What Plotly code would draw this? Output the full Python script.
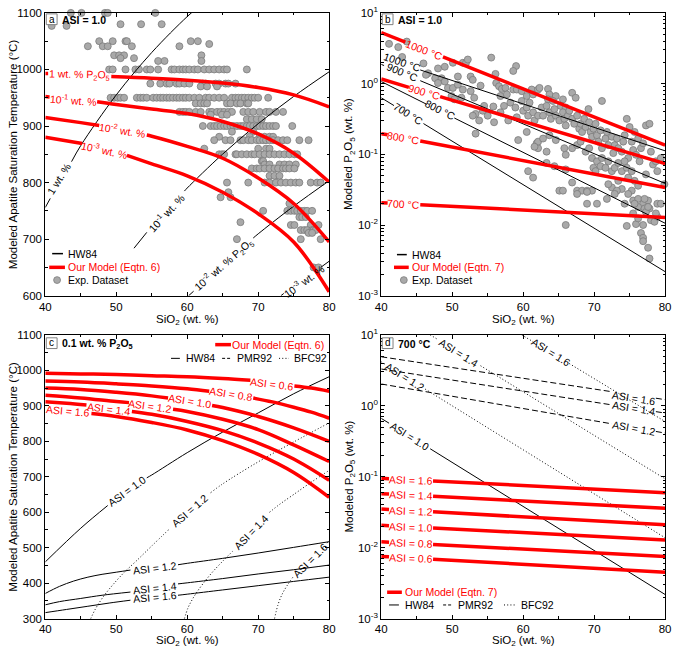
import math
import plotly.graph_objects as go

W, H = 677, 655
FONT = "Liberation Sans, Arial, Helvetica, sans-serif"
RED = "#ff0000"
BLACK = "#000000"
PT_FILL = "#a9a9a9"
PT_EDGE = "#7b7b7b"
TXT = 11.5
LBL = 10.5

# ---------------- axis ticks ----------------
x_ticks = [40, 50, 60, 70, 80]
x_minor = [45, 55, 65, 75]
a_y_ticks = [600, 700, 800, 900, 1000, 1100]
a_y_minor = [650, 750, 850, 950, 1050]
c_y_ticks = [300, 400, 500, 600, 700, 800, 900, 1000, 1100]
c_y_minor = [350, 450, 550, 650, 750, 850, 950, 1050]
log_ticks = [0.001, 0.01, 0.1, 1, 10]
log_ticktext = ["10<sup>-3</sup>", "10<sup>-2</sup>", "10<sup>-1</sup>", "10<sup>0</sup>", "10<sup>1</sup>"]
log_minor = [k * 10 ** e for e in (-3, -2, -1, 0) for k in range(2, 10)]

# ---------------- panel a: experimental dataset (T rows) ----------------
a_exp_row_temp = [1100, 1080, 1077, 1050, 1045, 1041, 1025, 1020, 1015, 1000, 975, 970, 950, 940,
                  925, 920, 912, 900, 890, 881, 875, 860, 850, 838, 832, 825, 812, 800, 783, 774,
                  763, 750, 739, 730, 725, 716, 711, 700, 650]
a_exp_row_sio2 = [
    [43.6, 45.1, 48.4, 48.8, 55.5],
    [50.6, 53.5, 56.4],
    [40.9, 43.0],
    [47.6, 49.5, 51.3, 51.5, 60.5, 61.5],
    [63.1],
    [46.0, 48.1, 48.8, 52.2, 58.9],
    [49.7, 50.4, 51.1, 62.0],
    [50.6, 52.5],
    [55.9, 56.8, 62.0],
    [49.0, 49.5, 51.3, 52.7, 53.2, 54.3, 54.8, 55.9, 57.8, 58.2, 58.9, 59.4, 59.8, 60.3, 61.0, 61.5,
     62.4, 63.1, 63.8, 64.5, 65.2, 65.6, 68.4],
    [54.8, 56.2, 57.1, 57.5, 58.5, 58.9, 59.6, 60.3, 62.2, 62.6, 64.0, 64.5, 65.4, 65.8, 66.8],
    [61.9, 62.8, 64.2],
    [49.2, 49.7, 50.2, 50.6, 51.1, 52.9, 53.4, 53.8, 54.3, 55.2, 55.7, 56.2, 56.6, 57.1, 57.5, 58.0,
     58.5, 58.9, 59.4, 59.8, 60.3, 61.0, 61.7, 62.6, 63.1, 63.8, 64.5, 65.2, 66.3, 66.8, 67.2, 67.7,
     68.1, 68.6, 69.1, 69.5, 70.0, 71.4],
    [61.2, 61.9, 62.4, 62.8, 65.6, 66.1, 67.0, 67.5, 68.4, 68.6],
    [58.9, 59.4, 59.8, 60.3, 61.2, 61.9, 63.1, 63.5, 64.2, 64.7, 65.2, 65.8, 66.3, 67.9, 68.6, 69.3,
     70.2, 71.1, 71.6, 72.5, 73.5],
    [63.3, 64.9, 65.6],
    [68.4, 69.1, 69.8, 70.5],
    [62.2, 63.3, 63.8, 64.2, 64.7, 65.2, 65.6, 66.1, 66.5, 67.0, 67.5, 67.9, 68.4, 68.8, 69.3, 69.8,
     70.2, 70.7, 71.1, 71.6, 72.1, 72.5, 74.8],
    [66.3, 69.3],
    [64.5, 68.8, 70.2, 70.9, 71.6, 72.1],
    [63.8, 65.4, 66.1, 67.5, 67.9, 68.6, 69.1, 69.8, 70.2, 70.7, 71.1, 71.6, 72.1, 72.8, 73.5, 74.1,
     75.8, 77.1],
    [62.4, 70.0, 71.1, 71.6],
    [64.5, 64.9, 65.2, 66.8, 67.0, 67.7, 68.4, 69.1, 69.5, 70.2, 70.9, 71.6, 72.3, 73.0, 73.7, 74.4,
     75.1, 75.5],
    [70.5, 70.7],
    [70.9, 71.6, 73.0, 73.7, 74.4, 75.3],
    [69.1, 69.8, 70.2, 70.9, 71.6, 72.3, 72.8, 73.5, 73.9, 74.4, 75.1],
    [71.6, 72.3, 73.0],
    [65.6, 68.6, 70.9, 71.6, 72.5, 73.2, 73.9, 74.6, 75.3, 75.8, 77.4, 78.3, 78.8],
    [65.8],
    [64.7, 66.1],
    [74.4],
    [70.7, 74.1, 74.6, 75.1, 75.5, 76.0, 76.5, 76.9, 77.6],
    [75.8, 76.2, 76.7],
    [67.5],
    [74.6, 75.1, 77.4, 78.5],
    [76.0, 76.5, 76.9, 77.6, 77.8, 78.1],
    [77.1, 77.6],
    [67.0, 76.0, 78.8],
    [77.8, 78.5],
]

# ---------------- panel a: curves (None = label gap) ----------------
a_red_1_x = [40, 40.4, None, 49.3, 55, 60, 65, 70, 75, 80]
a_red_1_t = [993, 993, None, 987.5, 984.5, 981, 976, 968, 955, 934]
a_red_01_x = [40, 40.6, None, 47.3, 50, 55, 60, 65, 70, 75, 80]
a_red_01_t = [952, 951.5, None, 943, 938, 930, 922, 908, 886, 852, 801]
a_red_001_x = [40, 45, 47.6, None, 54.3, 55, 60, 65, 70, 75, 80]
a_red_001_t = [915, 906, 901, None, 884, 882, 864, 843, 808, 763, 695]
a_red_0001_x = [40, 45.2, None, 51.5, 55, 60, 65, 70, 75, 80]
a_red_0001_t = [880, 869, None, 848, 833, 812, 783, 745, 695, 607]

a_hw_1_x = [40, 40.7, None, 43.7, 45, 50, 55, 60, 62]
a_hw_1_t = [756, 772, None, 837, 865.5, 955, 1030, 1093.5, 1115]
a_hw_01_x = [52.5, 54.3, None, 59.6, 60, 65, 70, 75, 80]
a_hw_01_t = [684, 712, None, 785, 790.4, 850.5, 904.1, 952.3, 995.9]
a_hw_001_x = [60.2, 60.9, None, 69.3, 70, 75, 80]
a_hw_001_t = [600, 608, None, 702, 709.4, 758.3, 803.2]
a_hw_0001_x = [73.2, 73.6, None, 78.8, 80]
a_hw_0001_t = [600, 604, None, 650, 661]

a_red_labels = ["1 wt. % P<sub>2</sub>O<sub>5</sub>", "10<sup>-1</sup> wt. %", "10<sup>-2</sup> wt. %", "10<sup>-3</sup> wt. %"]
a_red_label_x = [44.85, 44.0, 50.9, 48.4]
a_red_label_t = [990, 947, 893, 858]
a_red_label_ang = [1, 4, 9, 12]
a_hw_labels = ["1 wt. %", "10<sup>-1</sup> wt. %", "10<sup>-2</sup> wt. % P<sub>2</sub>O<sub>5</sub>", "10<sup>-3</sup> wt. %"]
a_hw_label_x = [41.9, 56.95, 65.1, 76.4]
a_hw_label_t = [806, 748, 655, 627]
a_hw_label_ang = [-58, -47, -41, -36]

# ---------------- panel b: experimental dataset ----------------
b_exp_sio2 = [
    41.1, 42.4, 43.6, 42.95, 45.95, 48.0, 47.6, 48.95, 50.1, 51.5, 51.95, 48.5, 48.95, 48.0, 49.4, 50.1,
    50.8, 49.9, 50.3, 51.3, 51.5, 46.6, 50.8, 46.3,
    52.2, 55.5, 59.0, 58.6, 52.6, 52.9, 54.0, 56.1, 56.2, 56.6, 57.0, 57.5, 56.8, 57.7, 58.6, 59.1,
    59.8, 60.5, 61.2, 61.4, 62.1, 62.3, 63.5, 63.7, 64.6, 63.5, 64.2, 65.6, 65.3, 66.0, 66.9, 67.4,
    69.2, 71.1,
    52.6, 53.1, 54.5, 55.8, 53.3, 52.9, 53.8, 55.0, 55.9, 53.3, 54.3, 56.8, 57.3, 57.9, 58.2, 58.9,
    59.1, 59.8, 60.0, 60.5, 60.7, 60.9, 61.4, 61.6, 62.1, 62.6, 62.8, 63.3, 63.7, 63.9, 64.4, 64.6,
    65.1, 65.6, 65.8, 66.0, 66.3, 66.5, 66.9, 67.2, 67.6, 67.9, 68.1, 68.3, 68.6, 68.8, 69.3, 69.5,
    69.7, 69.9, 70.2, 70.4, 70.6, 70.9, 71.1, 71.6, 71.8, 72.0, 72.5, 72.7, 72.9, 73.2, 73.4, 73.9,
    74.1, 74.3, 74.6, 74.8, 75.0, 75.3, 75.5, 75.7, 75.9, 76.2, 76.4, 76.6, 76.9, 77.3, 77.8, 78.0,
    78.3, 78.7, 78.9, 79.4, 77.3, 79.9,
    59.3, 60.5, 61.9, 62.1, 63.3, 62.1, 61.6, 62.8, 63.7, 64.6, 65.8, 66.0, 66.9, 67.6, 68.1, 68.8,
    69.3, 69.7, 69.9, 70.2, 70.4, 70.9, 71.1, 71.6, 72.0, 72.5, 72.9, 73.4, 73.9, 74.3, 74.6, 74.8,
    75.3, 75.7, 76.2,
    65.1, 65.6, 67.6, 68.3, 69.0, 69.7, 72.5, 73.4, 73.9, 75.3, 75.5, 76.2, 76.9, 77.6, 77.8, 78.9,
    66.9, 66.0, 63.3, 64.4, 60.7, 61.4, 69.0, 70.4, 72.0, 73.2, 74.8, 76.2, 77.1,
    66.0, 74.6, 75.9, 76.2, 76.9, 76.6, 76.9, 76.9, 77.6, 77.8, 78.0, 78.5, 78.9, 78.7, 79.4, 77.3,
    75.7, 75.5, 74.3, 77.6, 77.1, 67.6, 69.0, 72.9, 71.8,
]
b_exp_p2o5 = [
    3.65, 3.28, 3.93, 2.38, 1.93, 1.64, 1.19, 1.73, 1.97, 1.97, 1.97, 1.19, 1.07, 1.02, 0.869, 0.869,
    0.966, 0.667, 0.60, 0.632, 0.824, 1.40, 1.26, 1.33,
    2.19, 2.33, 1.77, 1.51, 1.26, 1.13, 0.935, 1.37, 1.02, 0.917, 0.841, 0.869, 0.667, 0.703, 0.824, 0.824,
    0.782, 0.667, 0.824, 0.703, 0.824, 0.869, 0.841, 0.703, 0.667, 0.598, 0.568, 0.598, 0.484, 0.459, 0.741, 0.631,
    0.436, 0.568,
    0.782, 0.631, 0.484, 0.474, 0.372, 0.352, 0.301, 0.352, 0.284, 0.196, 0.413, 0.392, 0.484, 0.301, 0.538, 0.459,
    0.334, 0.568, 0.413, 0.459, 0.352, 0.538, 0.392, 0.301, 0.352, 0.459, 0.352, 0.484, 0.392, 0.317, 0.436, 0.352,
    0.301, 0.392, 0.317, 0.256, 0.352, 0.413, 0.317, 0.270, 0.352, 0.230, 0.270, 0.207, 0.317, 0.243, 0.284, 0.207,
    0.177, 0.230, 0.270, 0.186, 0.151, 0.218, 0.122, 0.167, 0.207, 0.135, 0.177, 0.104, 0.135, 0.167, 0.122, 0.109,
    0.151, 0.186, 0.317, 0.0885, 0.243, 0.151, 0.115, 0.207, 0.0984, 0.167, 0.0796, 0.122, 0.143, 0.256, 0.270, 0.109,
    0.0716, 0.0796, 0.0578, 0.0885, 0.052, 0.0378,
    0.159, 0.207, 0.143, 0.122, 0.109, 0.151, 0.128, 0.167, 0.186, 0.159, 0.122, 0.0984, 0.122, 0.135, 0.151, 0.109,
    0.122, 0.0885, 0.0644, 0.0578, 0.0796, 0.0679, 0.0885, 0.0644, 0.0796, 0.0578, 0.0644, 0.0755, 0.0578, 0.0796, 0.0644, 0.0468,
    0.0578, 0.0421, 0.0359,
    0.0306, 0.0306, 0.0306, 0.0306, 0.0306, 0.0306, 0.034, 0.0421, 0.0323, 0.0306, 0.0222, 0.0234, 0.020, 0.0222, 0.0171, 0.020,
    0.0399, 0.0611, 0.0755, 0.0679, 0.0578, 0.0468, 0.020, 0.020, 0.0378, 0.0306, 0.0275, 0.018, 0.0171,
    0.010, 0.0097, 0.0103, 0.0124, 0.010, 0.0077, 0.0066, 0.0059, 0.00477, 0.00336, 0.0117, 0.0111, 0.0131, 0.0146, 0.020, 0.0153,
    0.020, 0.0146, 0.020, 0.018, 0.0234, 0.0275, 0.0294, 0.0275, 0.0234,
]

# ---------------- panel b: lines ----------------
b_red_1000_x = [40, 43.4, None, 48.7, 80]
b_red_1000_p = [5.28, 3.87, None, 2.38, 0.135]
b_red_900_x = [40, 43.9, None, 48.3, 80]
b_red_900_p = [1.16, 0.885, None, 0.653, 0.074]
b_red_800_x = [40, 40.9, None, 45.5, 80]
b_red_800_p = [0.196, 0.189, None, 0.154, 0.034]
b_red_700_x = [40, 40.9, None, 45.5, 80]
b_red_700_p = [0.0207, 0.0205, None, 0.0194, 0.0128]

b_hw_1000_x = [45.5, 80]
b_hw_1000_p = [1.56, 0.112]
b_hw_900_x = [40, 40.4, None, 45.5, 80]
b_hw_900_p = [1.87, 1.80, None, 1.10, 0.0387]
b_hw_800_x = [40, 46.4, None, 50.3, 80]
b_hw_800_p = [1.07, 0.51, None, 0.326, 0.0106]
b_hw_700_x = [40, 41.8, None, 45.95, 80]
b_hw_700_p = [0.63, 0.489, None, 0.272, 0.00219]

b_red_labels = ["1000 °C", "900 °C", "800 °C", "700 °C"]
b_red_label_x = [46.05, 46.1, 43.2, 43.2]
b_red_label_p = [3.02, 0.76, 0.17, 0.0200]
b_red_label_ang = [21, 16, 10, 3]
b_hw_labels = ["1000 °C", "900 °C", "800 °C", "700 °C"]
b_hw_label_x = [42.9, 42.95, 48.4, 43.9]
b_hw_label_p = [2.0, 1.45, 0.427, 0.372]
b_hw_label_ang = [19, 23, 27, 32]

# ---------------- panel c: lines (0.1 wt.% P2O5) ----------------
c_red_06_x = [40, 45, 50, 55, 60, 65, 68.9, None, 75.1, 77.5, 80]
c_red_06_t = [992, 990, 988, 985, 982, 977, 972, None, 956, 950, 941]
c_red_08_x = [40, 45, 50, 55, 60, 63.1, None, 69.3, 72, 75, 77.5, 80]
c_red_08_t = [970, 967, 962, 956, 948, 941, None, 922, 911, 896, 882, 865]
c_red_10_x = [40, 45, 50, 55, 57.3, None, 63.5, 65, 70, 75, 80]
c_red_10_t = [950, 946, 938, 928, 922, None, 901, 895, 870, 838, 800]
c_red_12_x = [40, 45, 50, 51.8, None, 58.0, 60, 65, 70, 75, 80]
c_red_12_t = [930, 922, 912, 909, None, 890, 884, 862, 833, 790, 743]
c_red_14_x = [40, 43, 45.8, None, 52.2, 55, 60, 65, 70, 75, 80]
c_red_14_t = [911.5, 907, 902, None, 884, 876, 856, 830, 795, 750, 690]
c_red_16_x = [46.5, 50, 55, 60, 65, 70, 75, 80]
c_red_16_t = [878, 870, 853, 832, 802, 763, 712, 642]

c_hw_x = [40, 45, 48.8, None, 54.3, 55, 60, 65, 70, 75, 80]
c_hw_t = [460, 555, 619, None, 697, 705, 768, 826, 880, 934, 982]

c_pmr_12_x = [40, 42, 44, 46, 48, 50, 52, None, 58.7, 60, 65, 70, 75, 80]
c_pmr_12_t = [371, 391, 406, 417, 425, 431, 437, None, 452, 456, 470, 485, 501, 517]
c_pmr_14_x = [40, 42, 45, 48, 52, None, 58.7, 60, 65, 70, 75, 80]
c_pmr_14_t = [339, 348, 357, 366, 375, None, 398, 401, 413, 426, 438, 451]
c_pmr_16_x = [40, 43, 46, 49, 52, None, 58.7, 60, 65, 70, 75, 80]
c_pmr_16_t = [317, 326, 335, 344, 352, None, 366, 369, 381, 393, 405, 417]

c_bfc_12_x = [46.4, 47.0, 47.6, 48.4, 49.5, 51.0, 53.0, 55.0, 57.6, None, 63.3, 65, 70, 75, 80]
c_bfc_12_t = [300, 325, 345, 368, 395, 428, 466, 505, 555, None, 655, 680, 742, 798, 852]
c_bfc_14_x = [59.6, 60.1, 60.6, 61.2, 62.2, 63.5, 65.0, 66.4, None, 71.6, 73, 75, 77.5, 80]
c_bfc_14_t = [300, 330, 350, 370, 398, 430, 462, 490, None, 600, 622, 650, 685, 718]
c_bfc_16_x = [72.3, 72.8, 73.4, 74.1, 75.0, None, 79.7, 80]
c_bfc_16_t = [300, 340, 370, 394, 420, None, 513, 520]

c_red_labels = ["ASI = 0.6", "ASI = 0.8", "ASI = 1.0", "ASI = 1.2", "ASI = 1.4", "ASI = 1.6"]
c_red_label_x = [71.9, 66.2, 60.4, 54.7, 49.0, 43.2]
c_red_label_t = [962, 932, 913, 899.5, 892, 885]
c_red_label_ang = [7, 9, 9, 8, 7, 5]
c_blk_labels = ["ASI = 1.0", "ASI = 1.2", "ASI = 1.4", "ASI = 1.6", "ASI = 1.2", "ASI = 1.4", "ASI = 1.6"]
c_blk_label_x = [51.5, 55.4, 55.4, 55.4, 60.45, 69.0, 77.35]
c_blk_label_t = [660, 442, 386, 362, 605, 545, 466]
c_blk_label_ang = [-36, -7, -6, -5, -41, -46, -45]

# ---------------- panel d: lines (700 °C) ----------------
d_red_x = [40, 41.1, None, 47.3, 80]
d_red_16_p = [0.095, 0.0938, None, 0.0873, 0.0597]
d_red_14_p = [0.0578, 0.0571, None, 0.053, 0.0359]
d_red_12_p = [0.0351, 0.0346, None, 0.032, 0.0211]
d_red_10_p = [0.0207, 0.0204, None, 0.019, 0.0128]
d_red_08_p = [0.0121, 0.0119, None, 0.0111, 0.00753]
d_red_06_p = [0.00753, 0.00743, None, 0.00686, 0.00452]

d_hw_x = [40, 41.1, None, 46.9, 80]
d_hw_p = [0.665, 0.569, None, 0.248, 0.00219]

d_pmr_x = [40, 72.5, None, 78.7, 80]
d_pmr_16_p = [4.91, 1.58, None, 1.28, 1.22]
d_pmr_14_p = [3.3, 1.03, None, 0.828, 0.79]
d_pmr_12_p = [2.03, 0.557, None, 0.435, 0.413]

d_bfc_12_x = [40, 40.6, None, 46.2, 80]
d_bfc_12_p = [4.17, 3.83, None, 1.72, 0.0138]
d_bfc_14_x = [46.9, 48.0, None, 54.0, 80]
d_bfc_14_p = [10, 8.57, None, 3.67, 0.0935]
d_bfc_16_x = [59.8, 61.4, None, 66.5, 80]
d_bfc_16_p = [10, 8.0, None, 3.94, 0.6]

d_red_labels = ["ASI = 1.6", "ASI = 1.4", "ASI = 1.2", "ASI = 1.0", "ASI = 0.8", "ASI = 0.6"]
d_red_label_x = [44.2, 44.2, 44.2, 44.2, 44.2, 44.2]
d_red_label_p = [0.0906, 0.055, 0.0333, 0.0197, 0.0115, 0.00714]
d_blk_labels = ["ASI = 1.0", "ASI = 1.6", "ASI = 1.4", "ASI = 1.2", "ASI = 1.2", "ASI = 1.4", "ASI = 1.6"]
d_blk_label_x = [44.0, 75.6, 75.6, 75.6, 43.4, 51.0, 63.9]
d_blk_label_p = [0.376, 1.3, 0.925, 0.48, 2.56, 5.61, 5.65]
d_blk_label_ang = [32, 9, 9, 10, 32, 32, 32]

# =====================================================================
fig = go.Figure()
AX = {"a": ("x", "y"), "b": ("x2", "y2"), "c": ("x3", "y3"), "d": ("x4", "y4")}
LOGP = {"a": False, "b": True, "c": False, "d": True}


def add_line(p, xs, ys, color, width, dash="solid", shape="linear"):
    xa, ya = AX[p]
    fig.add_trace(go.Scatter(x=xs, y=ys, xaxis=xa, yaxis=ya, mode="lines",
                             line=dict(color=color, width=width, dash=dash, shape=shape),
                             connectgaps=False, showlegend=False, hoverinfo="skip"))


def add_points(p, xs, ys):
    xa, ya = AX[p]
    fig.add_trace(go.Scatter(x=xs, y=ys, xaxis=xa, yaxis=ya, mode="markers", cliponaxis=False,
                             marker=dict(size=7, color=PT_FILL, line=dict(color=PT_EDGE, width=0.8)),
                             showlegend=False, hoverinfo="skip"))


def add_label(p, text, x, y, color, angle=0, size=LBL):
    xa, ya = AX[p]
    yy = math.log10(y) if LOGP[p] else y
    fig.add_annotation(x=x, y=yy, xref=xa, yref=ya, text=text, showarrow=False, textangle=angle,
                       font=dict(color=color, size=size, family=FONT), xanchor="center", yanchor="middle")


def px(v):
    return v / W


def py(v):
    return 1 - v / H


def ptext(text, x, y, color=BLACK, size=TXT, anchor="left", angle=0):
    fig.add_annotation(x=px(x), y=py(y), xref="paper", yref="paper", text=text, showarrow=False,
                       textangle=angle, font=dict(color=color, size=size, family=FONT),
                       xanchor=anchor, yanchor="middle")


def pline(x0, x1, y, color, width, dash="solid"):
    fig.add_shape(type="line", xref="paper", yref="paper", x0=px(x0), x1=px(x1), y0=py(y), y1=py(y),
                  line=dict(color=color, width=width, dash=dash))


def pmarker(x, y):
    r = 3.5
    fig.add_shape(type="circle", xref="paper", yref="paper", x0=px(x - r), x1=px(x + r),
                  y0=py(y + r), y1=py(y - r), fillcolor=PT_FILL, line=dict(color=PT_EDGE, width=0.8))


def panel_tag(letter, x, y, text):
    fig.add_shape(type="rect", xref="paper", yref="paper", x0=px(x), x1=px(x + 11),
                  y0=py(y + 11), y1=py(y), fillcolor="white", line=dict(color="#808080", width=1))
    ptext(letter, x + 5.5, y + 5.3, size=10, anchor="center")
    ptext("<b>" + text + "</b>", x + 14, y + 6, size=10.5)


RW = 3.5
BW = 1.0
PMR_DASH = "6px,3px"
BFC_DOT = "1px,2.2px"

# ---- panel a ----
a_x, a_t = [], []
for t, row in zip(a_exp_row_temp, a_exp_row_sio2):
    a_x += row
    a_t += [t] * len(row)
add_points("a", a_x, a_t)
for xs, ts in [(a_hw_1_x, a_hw_1_t), (a_hw_01_x, a_hw_01_t), (a_hw_001_x, a_hw_001_t), (a_hw_0001_x, a_hw_0001_t)]:
    add_line("a", xs, ts, BLACK, BW, shape="spline")
for xs, ts in [(a_red_1_x, a_red_1_t), (a_red_01_x, a_red_01_t), (a_red_001_x, a_red_001_t), (a_red_0001_x, a_red_0001_t)]:
    add_line("a", xs, ts, RED, RW, shape="spline")
for s, x, t, ang in zip(a_red_labels, a_red_label_x, a_red_label_t, a_red_label_ang):
    add_label("a", s, x, t, RED, ang)
for s, x, t, ang in zip(a_hw_labels, a_hw_label_x, a_hw_label_t, a_hw_label_ang):
    add_label("a", s, x, t, BLACK, ang)

# ---- panel b ----
add_points("b", b_exp_sio2, b_exp_p2o5)
for xs, ps in [(b_hw_1000_x, b_hw_1000_p), (b_hw_900_x, b_hw_900_p), (b_hw_800_x, b_hw_800_p), (b_hw_700_x, b_hw_700_p)]:
    add_line("b", xs, ps, BLACK, BW)
for xs, ps in [(b_red_1000_x, b_red_1000_p), (b_red_900_x, b_red_900_p), (b_red_800_x, b_red_800_p), (b_red_700_x, b_red_700_p)]:
    add_line("b", xs, ps, RED, RW)
for s, x, p, ang in zip(b_red_labels, b_red_label_x, b_red_label_p, b_red_label_ang):
    add_label("b", s, x, p, RED, ang)
for s, x, p, ang in zip(b_hw_labels, b_hw_label_x, b_hw_label_p, b_hw_label_ang):
    add_label("b", s, x, p, BLACK, ang)

# ---- panel c ----
add_line("c", c_hw_x, c_hw_t, BLACK, BW, shape="spline")
for xs, ts in [(c_pmr_12_x, c_pmr_12_t), (c_pmr_14_x, c_pmr_14_t), (c_pmr_16_x, c_pmr_16_t)]:
    add_line("c", xs, ts, BLACK, BW, shape="spline")
for xs, ts in [(c_bfc_12_x, c_bfc_12_t), (c_bfc_14_x, c_bfc_14_t), (c_bfc_16_x, c_bfc_16_t)]:
    add_line("c", xs, ts, BLACK, BW, dash=BFC_DOT, shape="spline")
for xs, ts in [(c_red_06_x, c_red_06_t), (c_red_08_x, c_red_08_t), (c_red_10_x, c_red_10_t),
               (c_red_12_x, c_red_12_t), (c_red_14_x, c_red_14_t), (c_red_16_x, c_red_16_t)]:
    add_line("c", xs, ts, RED, RW, shape="spline")
for s, x, t, ang in zip(c_red_labels, c_red_label_x, c_red_label_t, c_red_label_ang):
    add_label("c", s, x, t, RED, ang)
for s, x, t, ang in zip(c_blk_labels, c_blk_label_x, c_blk_label_t, c_blk_label_ang):
    add_label("c", s, x, t, BLACK, ang)

# ---- panel d ----
add_line("d", d_hw_x, d_hw_p, BLACK, BW)
for ps in [d_pmr_16_p, d_pmr_14_p, d_pmr_12_p]:
    add_line("d", d_pmr_x, ps, BLACK, BW, dash=PMR_DASH)
for xs, ps in [(d_bfc_12_x, d_bfc_12_p), (d_bfc_14_x, d_bfc_14_p), (d_bfc_16_x, d_bfc_16_p)]:
    add_line("d", xs, ps, BLACK, BW, dash=BFC_DOT)
for ps in [d_red_16_p, d_red_14_p, d_red_12_p, d_red_10_p, d_red_08_p, d_red_06_p]:
    add_line("d", d_red_x, ps, RED, RW)
for s, x, p in zip(d_red_labels, d_red_label_x, d_red_label_p):
    add_label("d", s, x, p, RED, 2)
for s, x, p, ang in zip(d_blk_labels, d_blk_label_x, d_blk_label_p, d_blk_label_ang):
    add_label("d", s, x, p, BLACK, ang)

# ---- axes ----
XL, XR = [40 / W, 329 / W], [382 / W, 671 / W]
YT, YB = [1 - 294 / H, 1 - 5 / H], [1 - 624 / H, 1 - 334 / H]
tickfont = dict(family=FONT, size=TXT, color=BLACK)


def xaxis(domain, anchor):
    return dict(domain=domain, anchor=anchor, range=[40, 80], tickmode="array", tickvals=x_ticks,
                ticktext=[str(v) for v in x_ticks], ticks="inside", ticklen=4, tickwidth=1, tickcolor=BLACK,
                showline=True, linecolor=BLACK, linewidth=1, mirror="allticks", showgrid=False, zeroline=False,
                minor=dict(ticks="inside", ticklen=2.5, tickvals=x_minor, tickcolor=BLACK, tickwidth=1, showgrid=False),
                tickfont=tickfont, fixedrange=True)


def ylin(domain, anchor, rng, ticks, minor):
    return dict(domain=domain, anchor=anchor, range=rng, tickmode="array", tickvals=ticks,
                ticktext=[str(v) for v in ticks], ticks="inside", ticklen=4, tickwidth=1, tickcolor=BLACK,
                showline=True, linecolor=BLACK, linewidth=1, mirror="allticks", showgrid=False, zeroline=False,
                minor=dict(ticks="inside", ticklen=2.5, tickvals=minor, tickcolor=BLACK, tickwidth=1, showgrid=False),
                tickfont=tickfont, fixedrange=True)


def ylog(domain, anchor):
    return dict(domain=domain, anchor=anchor, type="log", range=[-3, 1], tickmode="array", tickvals=log_ticks,
                ticktext=log_ticktext, ticks="inside", ticklen=4, tickwidth=1, tickcolor=BLACK,
                showline=True, linecolor=BLACK, linewidth=1, mirror="allticks", showgrid=False, zeroline=False,
                minor=dict(ticks="inside", ticklen=2.5, tickvals=log_minor, tickcolor=BLACK, tickwidth=1, showgrid=False),
                tickfont=tickfont, fixedrange=True)


fig.update_layout(
    width=W, height=H, margin=dict(l=0, r=0, t=0, b=0),
    paper_bgcolor="white", plot_bgcolor="white", showlegend=False,
    font=dict(family=FONT, size=TXT, color=BLACK),
    xaxis=xaxis(XL, "y"), yaxis=ylin(YT, "x", [600, 1100], a_y_ticks, a_y_minor),
    xaxis2=xaxis(XR, "y2"), yaxis2=ylog(YT, "x2"),
    xaxis3=xaxis(XL, "y3"), yaxis3=ylin(YB, "x3", [300, 1100], c_y_ticks, c_y_minor),
    xaxis4=xaxis(XR, "y4"), yaxis4=ylog(YB, "x4"),
)

# axis titles
YT_A = "Modeled Apatite Saturation Temperature (°C)"
YT_B = "Modeled P<sub>2</sub>O<sub>5</sub> (wt. %)"
XT = "SiO<sub>2</sub> (wt. %)"
ptext(YT_A, 7, 149.5, anchor="center", angle=-90)
ptext(YT_B, 350, 149.5, anchor="center", angle=-90)
ptext(YT_A, 7, 479, anchor="center", angle=-90)
ptext(YT_B, 350, 479, anchor="center", angle=-90)
ptext(XT, 184.5, 319, anchor="center")
ptext(XT, 526.5, 319, anchor="center")
ptext(XT, 184.5, 646.5, anchor="center")
ptext(XT, 526.5, 646.5, anchor="center")

# panel tags
panel_tag("a", 41, 6, "ASI = 1.0")
panel_tag("b", 383, 6, "ASI = 1.0")
panel_tag("c", 41, 337, "0.1 wt. % P<sub>2</sub>O<sub>5</sub>")
panel_tag("d", 383, 337, "700 °C")

# legends
LS = 10.5
# a
pline(47, 58, 251, BLACK, 1.5)
ptext("HW84", 61, 251, size=LS)
pline(44, 60, 265, RED, 3.5)
ptext("Our Model (Eqtn. 6)", 61, 265, color=RED, size=LS)
pmarker(52, 278)
ptext("Exp. Dataset", 61, 278, size=LS)
# b
pline(398, 408, 252, BLACK, 1.5)
ptext("HW84", 411, 252, size=LS)
pline(395, 410, 265, RED, 3.5)
ptext("Our Model (Eqtn. 7)", 411, 265, color=RED, size=LS)
pmarker(405, 278)
ptext("Exp. Dataset", 411, 278, size=LS)
# c
pline(213, 229, 344, RED, 3.5)
ptext("Our Model (Eqtn. 6)", 326, 344, color=RED, size=LS, anchor="right")
pline(168, 177, 358, BLACK, 1)
ptext("HW84", 181, 358, size=LS)
pline(220, 230, 358, BLACK, 1, dash="3px,2px")
ptext("PMR92", 233, 358, size=LS)
pline(278, 288, 358, BLACK, 1, dash=BFC_DOT)
ptext("BFC92", 291, 358, size=LS)
# d
pline(388, 403, 597, RED, 3.5)
ptext("Our Model (Eqtn. 7)", 404, 597, color=RED, size=LS)
pline(390, 400, 610, BLACK, 1)
ptext("HW84", 404, 610, size=LS)
pline(445, 455, 610, BLACK, 1, dash="3px,2px")
ptext("PMR92", 458, 610, size=LS)
pline(507, 518, 610, BLACK, 1, dash=BFC_DOT)
ptext("BFC92", 522, 610, size=LS)

fig.write_html("out.html")
